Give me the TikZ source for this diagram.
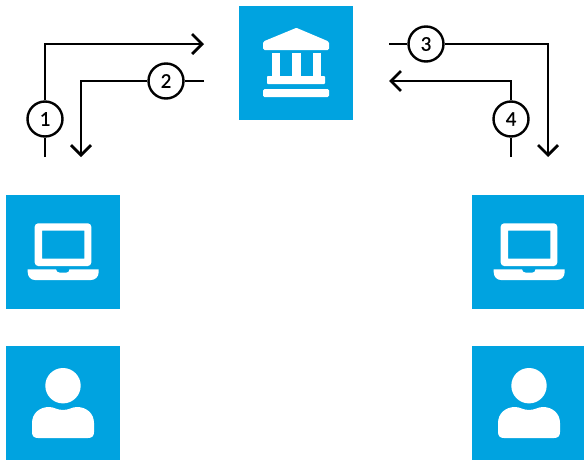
\documentclass[tikz,border=0pt]{standalone}
\usepackage{fontspec}
\setmainfont{Carlito}[BoldFont=Carlito, BoldFeatures={FakeBold=0.6}]
\usetikzlibrary{arrows.meta}

\definecolor{tileblue}{HTML}{00A3E0}

\tikzset{
    bankicon/.pic={
        \fill[white] (-33, -20) .. controls (-33, -21) and (-32.5, -21.7) .. (-31.5, -22) -- (0, -35) -- (0.8, -35) -- (31.5, -22) .. controls (32.5, -21.7) and (33, -21) .. (33, -20) -- (33, -14.5) .. controls (33, -13.5) and (32.5, -13) .. (31.5, -13) -- (-31.5, -13) .. controls (-32.5, -13) and (-33, -13.5) .. (-33, -14.5) -- cycle;
        \fill[white] (-24, -10) rectangle (-16, 13);
        \fill[white] (-4, -10) rectangle (5, 13);
        \fill[white] (17, -10) rectangle (25, 13);
        \fill[white, rounded corners=0.8pt] (-29, 13) rectangle (29, 21);
        \fill[white, rounded corners=1.5pt] (-33, 26) rectangle (33, 34);
    },
    laptopicon/.pic={
        \fill[white, even odd rule] [rounded corners=3.5pt] (-28.3, -28.7) -- (28.3, -28.7) -- (28.3, 14) -- (-28.3, 14) -- cycle
            [sharp corners] (-21, -21.3) rectangle (21.3, 6.7);
        \fill[white] (-35.3, 17.3) -- (-7, 17.3) .. controls (-7, 19.5) and (-5, 20.7) .. (-3, 20.7) -- (3, 20.7) .. controls (5, 20.7) and (6.5, 19.5) .. (6.5, 17.3) -- (35.7, 17.3) -- (35.7, 20) .. controls (35.7, 25) and (32, 28) .. (28, 28) -- (-28, 28) .. controls (-32, 28) and (-35.3, 25) .. (-35.3, 20) -- cycle;
    },
    usericon/.pic={
        \fill[white] (0, -17.3) circle (17.7);
        \fill[white] (-31, 20) .. controls (-31, 10) and (-23, 4) .. (-14, 4) .. controls (-9, 4) and (-6, 7) .. (0, 7) .. controls (6, 7) and (9, 4) .. (14, 4) .. controls (23, 4) and (31, 10) .. (31, 20) -- (31, 29) .. controls (31, 33) and (29, 35) .. (25, 35) -- (-25, 35) .. controls (-29, 35) and (-31, 33) .. (-31, 29) -- cycle;
    }
}

\begin{document}
\begin{tikzpicture}[x=1pt, y=-1pt]
    \tikzstyle{tile}=[
        fill = tileblue,
        minimum size = 114pt,
        inner sep = 0pt
    ]
    \tikzstyle{step mark}=[
        draw = black,
        line width = 2.4pt,
        fill = white,
        minimum size = 35pt,
        inner sep = 0pt,
        font = \fontsize{21}{21}\selectfont\bfseries,
        circle
    ]
    \tikzstyle{flow}=[
        line width = 2.8pt,
        black
    ]
    \tikzstyle{flow end}=[
        flow,
        -{Straight Barb[length=10pt, width=20pt, line width=2.8pt]}
    ]

    \useasboundingbox (0, 0) rectangle (584, 461);

    \node[tile] (bank)   at (296, 63)  {};
    \node[tile] (laptopl) at (63, 252)  {};
    \node[tile] (laptopr) at (529, 252) {};
    \node[tile] (userl)  at (63, 403)  {};
    \node[tile] (userr)  at (529, 403) {};

    \pic at (bank) {bankicon};
    \pic at (laptopl) {laptopicon};
    \pic at (laptopr) {laptopicon};
    \pic at (userl) {usericon};
    \pic at (userr) {usericon};

    \coordinate (start1) at (45, 157);
    \coordinate (end1)   at (204, 44);
    \coordinate (start2) at (204, 81);
    \coordinate (end2)   at (81, 157);
    \coordinate (start3) at (389, 44);
    \coordinate (end3)   at (548, 157);
    \coordinate (start4) at (511, 157);
    \coordinate (end4)   at (389, 81);

    \node[step mark] (one)   at (45, 119)  {1};
    \node[step mark] (two)   at (166, 81)  {2};
    \node[step mark] (three) at (426, 44)  {3};
    \node[step mark] (four)  at (511, 119) {4};

    \draw[flow] (start1) -- (one);
    \draw[flow end] (one) |- (end1);
    \draw[flow] (start2) -- (two);
    \draw[flow end] (two) -| (end2);
    \draw[flow] (start3) -- (three);
    \draw[flow end] (three) -| (end3);
    \draw[flow] (start4) -- (four);
    \draw[flow end] (four) |- (end4);

\end{tikzpicture}
\end{document}
